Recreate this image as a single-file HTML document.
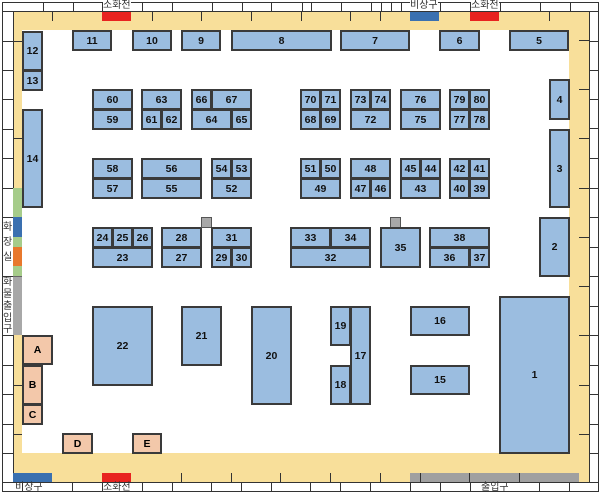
<!DOCTYPE html>
<html><head><meta charset="utf-8"><style>
body{margin:0;width:600px;height:494px;background:#fff;position:relative;overflow:hidden;font-family:"Liberation Sans","Noto Sans CJK KR",sans-serif}
div{position:absolute;box-sizing:border-box}
.b{background:#9bbde0;border:2px solid #3a3a3a;font-weight:bold;font-size:10.5px;color:#111;display:flex;align-items:center;justify-content:center}
.p{background:#f3c8aa;border:2px solid #3a3a3a;font-weight:bold;font-size:10.5px;display:flex;align-items:center;justify-content:center}
.y{background:#f8df9a}
.v{width:1px;background:#333}
.h{height:1px;background:#333}
.t{font-size:10px;color:#333;line-height:10px}
</style></head><body>
<div style="left:2px;top:2px;width:597px;height:490px;border:1px solid #333"></div>
<div class="y" style="left:13px;top:12px;width:576px;height:18px"></div>
<div class="y" style="left:13px;top:12px;width:9px;height:176px"></div>
<div class="y" style="left:13px;top:335px;width:9px;height:140px"></div>
<div class="y" style="left:569px;top:12px;width:20px;height:470px"></div>
<div class="y" style="left:13px;top:453px;width:576px;height:29px"></div>
<div class="h" style="left:2px;top:11px;width:597px"></div>
<div class="h" style="left:2px;top:482px;width:597px"></div>
<div class="v" style="left:13px;top:11px;height:472px"></div>
<div class="v" style="left:589px;top:11px;height:472px"></div>
<div class="v" style="left:43px;top:2px;height:10px"></div><div class="v" style="left:73px;top:2px;height:10px"></div>
<div class="v" style="left:102px;top:2px;height:10px"></div><div class="v" style="left:124px;top:2px;height:10px"></div>
<div class="v" style="left:142px;top:2px;height:10px"></div><div class="v" style="left:172px;top:2px;height:10px"></div>
<div class="v" style="left:212px;top:2px;height:10px"></div><div class="v" style="left:242px;top:2px;height:10px"></div>
<div class="v" style="left:271px;top:2px;height:10px"></div><div class="v" style="left:302px;top:2px;height:10px"></div>
<div class="v" style="left:311px;top:2px;height:10px"></div><div class="v" style="left:341px;top:2px;height:10px"></div>
<div class="v" style="left:371px;top:2px;height:10px"></div><div class="v" style="left:381px;top:2px;height:10px"></div>
<div class="v" style="left:391px;top:2px;height:10px"></div><div class="v" style="left:401px;top:2px;height:10px"></div>
<div class="v" style="left:410px;top:2px;height:10px"></div><div class="v" style="left:440px;top:2px;height:10px"></div>
<div class="v" style="left:470px;top:2px;height:10px"></div><div class="v" style="left:500px;top:2px;height:10px"></div>
<div class="v" style="left:540px;top:2px;height:10px"></div><div class="v" style="left:570px;top:2px;height:10px"></div>
<div class="v" style="left:52px;top:12px;height:9px"></div><div class="v" style="left:152px;top:12px;height:9px"></div>
<div class="v" style="left:201px;top:12px;height:9px"></div><div class="v" style="left:251px;top:12px;height:9px"></div>
<div class="v" style="left:301px;top:12px;height:9px"></div><div class="v" style="left:350px;top:12px;height:9px"></div>
<div class="v" style="left:380px;top:12px;height:9px"></div><div class="v" style="left:549px;top:12px;height:9px"></div>
<div style="left:102px;top:12px;width:29px;height:9px;background:#e8231f"></div>
<div style="left:410px;top:12px;width:29px;height:9px;background:#3a70b0"></div>
<div style="left:470px;top:12px;width:29px;height:9px;background:#e8231f"></div>
<div class="t" style="left:103px;top:1px;background:#fff">소화전</div>
<div class="t" style="left:410px;top:1px;background:#fff">비상구</div>
<div class="t" style="left:471px;top:1px;background:#fff">소화전</div>
<div class="h" style="left:2px;top:41px;width:11px"></div><div class="h" style="left:2px;top:70px;width:11px"></div>
<div class="h" style="left:2px;top:99px;width:11px"></div><div class="h" style="left:2px;top:129px;width:11px"></div>
<div class="h" style="left:2px;top:158px;width:11px"></div><div class="h" style="left:2px;top:188px;width:11px"></div>
<div class="h" style="left:2px;top:217px;width:11px"></div><div class="h" style="left:2px;top:276px;width:11px"></div>
<div class="h" style="left:2px;top:335px;width:11px"></div><div class="h" style="left:2px;top:365px;width:11px"></div>
<div class="h" style="left:2px;top:394px;width:11px"></div><div class="h" style="left:2px;top:424px;width:11px"></div>
<div class="h" style="left:2px;top:453px;width:11px"></div>
<div style="left:13px;top:188px;width:9px;height:29px;background:#a6cc8a"></div>
<div style="left:13px;top:217px;width:9px;height:20px;background:#3a70b0"></div>
<div style="left:13px;top:237px;width:9px;height:10px;background:#a6cc8a"></div>
<div style="left:13px;top:247px;width:9px;height:19px;background:#e8782c"></div>
<div style="left:13px;top:266px;width:9px;height:10px;background:#a6cc8a"></div>
<div style="left:13px;top:276px;width:9px;height:59px;background:#a8a8a8;border-top:1px solid #666"></div>
<div class="t" style="left:3px;top:223px">화</div><div class="t" style="left:3px;top:238px">장</div><div class="t" style="left:3px;top:253px">실</div>
<div class="t" style="left:3px;top:278px">화</div><div class="t" style="left:3px;top:290px">물</div><div class="t" style="left:3px;top:302px">출</div>
<div class="t" style="left:3px;top:314px">입</div><div class="t" style="left:3px;top:325px">구</div>
<div class="h" style="left:13px;top:41px;width:9px"></div><div class="h" style="left:13px;top:138px;width:9px"></div>
<div class="h" style="left:13px;top:385px;width:9px"></div><div class="h" style="left:13px;top:434px;width:9px"></div>
<div class="h" style="left:589px;top:41px;width:10px"></div><div class="h" style="left:589px;top:70px;width:10px"></div>
<div class="h" style="left:589px;top:99px;width:10px"></div><div class="h" style="left:589px;top:128px;width:10px"></div>
<div class="h" style="left:589px;top:158px;width:10px"></div><div class="h" style="left:589px;top:188px;width:10px"></div>
<div class="h" style="left:589px;top:217px;width:10px"></div><div class="h" style="left:589px;top:247px;width:10px"></div>
<div class="h" style="left:589px;top:276px;width:10px"></div><div class="h" style="left:589px;top:306px;width:10px"></div>
<div class="h" style="left:589px;top:335px;width:10px"></div><div class="h" style="left:589px;top:365px;width:10px"></div>
<div class="h" style="left:589px;top:394px;width:10px"></div><div class="h" style="left:589px;top:424px;width:10px"></div>
<div class="h" style="left:589px;top:453px;width:10px"></div>
<div class="h" style="left:579px;top:40px;width:10px"></div><div class="h" style="left:579px;top:89px;width:10px"></div>
<div class="h" style="left:579px;top:138px;width:10px"></div><div class="h" style="left:579px;top:188px;width:10px"></div>
<div class="h" style="left:579px;top:237px;width:10px"></div><div class="h" style="left:579px;top:286px;width:10px"></div>
<div class="h" style="left:579px;top:335px;width:10px"></div><div class="h" style="left:579px;top:385px;width:10px"></div>
<div class="h" style="left:579px;top:434px;width:10px"></div>
<div style="left:13px;top:473px;width:39px;height:9px;background:#3a70b0"></div>
<div style="left:102px;top:473px;width:29px;height:9px;background:#e8231f"></div>
<div style="left:410px;top:473px;width:169px;height:9px;background:#a0a0a0"></div>
<div class="v" style="left:181px;top:473px;height:9px"></div><div class="v" style="left:231px;top:473px;height:9px"></div>
<div class="v" style="left:280px;top:473px;height:9px"></div><div class="v" style="left:330px;top:473px;height:9px"></div>
<div class="v" style="left:380px;top:473px;height:9px"></div><div class="v" style="left:420px;top:473px;height:9px"></div>
<div class="v" style="left:469px;top:473px;height:9px"></div><div class="v" style="left:519px;top:473px;height:9px"></div>
<div class="v" style="left:22px;top:482px;height:10px"></div><div class="v" style="left:72px;top:482px;height:10px"></div>
<div class="v" style="left:102px;top:482px;height:10px"></div><div class="v" style="left:142px;top:482px;height:10px"></div>
<div class="v" style="left:172px;top:482px;height:10px"></div><div class="v" style="left:211px;top:482px;height:10px"></div>
<div class="v" style="left:241px;top:482px;height:10px"></div><div class="v" style="left:271px;top:482px;height:10px"></div>
<div class="v" style="left:310px;top:482px;height:10px"></div><div class="v" style="left:340px;top:482px;height:10px"></div>
<div class="v" style="left:370px;top:482px;height:10px"></div><div class="v" style="left:410px;top:482px;height:10px"></div>
<div class="v" style="left:440px;top:482px;height:10px"></div><div class="v" style="left:470px;top:482px;height:10px"></div>
<div class="v" style="left:539px;top:482px;height:10px"></div><div class="v" style="left:569px;top:482px;height:10px"></div>
<div class="t" style="left:15px;top:483px">비상구</div>
<div class="t" style="left:103px;top:483px">소화전</div>
<div class="t" style="left:481px;top:483px">출입구</div>
<div class="b" style="left:72px;top:30px;width:40px;height:21px">11</div>
<div class="b" style="left:132px;top:30px;width:40px;height:21px">10</div>
<div class="b" style="left:181px;top:30px;width:40px;height:21px">9</div>
<div class="b" style="left:231px;top:30px;width:101px;height:21px">8</div>
<div class="b" style="left:340px;top:30px;width:70px;height:21px">7</div>
<div class="b" style="left:439px;top:30px;width:41px;height:21px">6</div>
<div class="b" style="left:509px;top:30px;width:60px;height:21px">5</div>
<div class="b" style="left:22px;top:31px;width:21px;height:40px">12</div>
<div class="b" style="left:22px;top:70px;width:21px;height:21px">13</div>
<div class="b" style="left:22px;top:109px;width:21px;height:99px">14</div>
<div class="b" style="left:549px;top:79px;width:21px;height:41px">4</div>
<div class="b" style="left:549px;top:129px;width:21px;height:79px">3</div>
<div class="b" style="left:539px;top:217px;width:31px;height:60px">2</div>
<div class="b" style="left:92px;top:89px;width:41px;height:21px">60</div>
<div class="b" style="left:92px;top:109px;width:41px;height:21px">59</div>
<div class="b" style="left:141px;top:89px;width:41px;height:21px">63</div>
<div class="b" style="left:141px;top:109px;width:21px;height:21px">61</div>
<div class="b" style="left:161px;top:109px;width:21px;height:21px">62</div>
<div class="b" style="left:191px;top:89px;width:21px;height:21px">66</div>
<div class="b" style="left:211px;top:89px;width:41px;height:21px">67</div>
<div class="b" style="left:191px;top:109px;width:41px;height:21px">64</div>
<div class="b" style="left:231px;top:109px;width:21px;height:21px">65</div>
<div class="b" style="left:300px;top:89px;width:21px;height:21px">70</div>
<div class="b" style="left:320px;top:89px;width:21px;height:21px">71</div>
<div class="b" style="left:300px;top:109px;width:21px;height:21px">68</div>
<div class="b" style="left:320px;top:109px;width:21px;height:21px">69</div>
<div class="b" style="left:350px;top:89px;width:21px;height:21px">73</div>
<div class="b" style="left:370px;top:89px;width:21px;height:21px">74</div>
<div class="b" style="left:350px;top:109px;width:41px;height:21px">72</div>
<div class="b" style="left:400px;top:89px;width:41px;height:21px">76</div>
<div class="b" style="left:400px;top:109px;width:41px;height:21px">75</div>
<div class="b" style="left:449px;top:89px;width:21px;height:21px">79</div>
<div class="b" style="left:469px;top:89px;width:21px;height:21px">80</div>
<div class="b" style="left:449px;top:109px;width:21px;height:21px">77</div>
<div class="b" style="left:469px;top:109px;width:21px;height:21px">78</div>
<div class="b" style="left:92px;top:158px;width:41px;height:21px">58</div>
<div class="b" style="left:92px;top:178px;width:41px;height:21px">57</div>
<div class="b" style="left:141px;top:158px;width:61px;height:21px">56</div>
<div class="b" style="left:141px;top:178px;width:61px;height:21px">55</div>
<div class="b" style="left:211px;top:158px;width:21px;height:21px">54</div>
<div class="b" style="left:231px;top:158px;width:21px;height:21px">53</div>
<div class="b" style="left:211px;top:178px;width:41px;height:21px">52</div>
<div class="b" style="left:300px;top:158px;width:21px;height:21px">51</div>
<div class="b" style="left:320px;top:158px;width:21px;height:21px">50</div>
<div class="b" style="left:300px;top:178px;width:41px;height:21px">49</div>
<div class="b" style="left:350px;top:158px;width:41px;height:21px">48</div>
<div class="b" style="left:350px;top:178px;width:21px;height:21px">47</div>
<div class="b" style="left:370px;top:178px;width:21px;height:21px">46</div>
<div class="b" style="left:400px;top:158px;width:21px;height:21px">45</div>
<div class="b" style="left:420px;top:158px;width:21px;height:21px">44</div>
<div class="b" style="left:400px;top:178px;width:41px;height:21px">43</div>
<div class="b" style="left:449px;top:158px;width:21px;height:21px">42</div>
<div class="b" style="left:469px;top:158px;width:21px;height:21px">41</div>
<div class="b" style="left:449px;top:178px;width:21px;height:21px">40</div>
<div class="b" style="left:469px;top:178px;width:21px;height:21px">39</div>
<div class="b" style="left:92px;top:227px;width:21px;height:21px">24</div>
<div class="b" style="left:112px;top:227px;width:21px;height:21px">25</div>
<div class="b" style="left:132px;top:227px;width:21px;height:21px">26</div>
<div class="b" style="left:92px;top:247px;width:61px;height:21px">23</div>
<div class="b" style="left:161px;top:227px;width:41px;height:21px">28</div>
<div class="b" style="left:161px;top:247px;width:41px;height:21px">27</div>
<div style="left:201px;top:217px;width:11px;height:11px;background:#a8a8a8;border:1px solid #555"></div>
<div class="b" style="left:211px;top:227px;width:41px;height:21px">31</div>
<div class="b" style="left:211px;top:247px;width:21px;height:21px">29</div>
<div class="b" style="left:231px;top:247px;width:21px;height:21px">30</div>
<div class="b" style="left:290px;top:227px;width:41px;height:21px">33</div>
<div class="b" style="left:330px;top:227px;width:41px;height:21px">34</div>
<div class="b" style="left:290px;top:247px;width:81px;height:21px">32</div>
<div style="left:390px;top:217px;width:11px;height:11px;background:#a8a8a8;border:1px solid #555"></div>
<div class="b" style="left:380px;top:227px;width:41px;height:41px">35</div>
<div class="b" style="left:429px;top:227px;width:61px;height:21px">38</div>
<div class="b" style="left:429px;top:247px;width:41px;height:21px">36</div>
<div class="b" style="left:469px;top:247px;width:21px;height:21px">37</div>
<div class="b" style="left:92px;top:306px;width:61px;height:80px">22</div>
<div class="b" style="left:181px;top:306px;width:41px;height:60px">21</div>
<div class="b" style="left:251px;top:306px;width:41px;height:99px">20</div>
<div class="b" style="left:330px;top:306px;width:21px;height:40px">19</div>
<div class="b" style="left:330px;top:365px;width:21px;height:40px">18</div>
<div class="b" style="left:350px;top:306px;width:21px;height:99px">17</div>
<div class="b" style="left:410px;top:306px;width:60px;height:30px">16</div>
<div class="b" style="left:410px;top:365px;width:60px;height:30px">15</div>
<div class="b" style="left:499px;top:296px;width:71px;height:158px">1</div>
<div class="p" style="left:22px;top:335px;width:31px;height:30px">A</div>
<div class="p" style="left:22px;top:365px;width:21px;height:40px">B</div>
<div class="p" style="left:22px;top:404px;width:21px;height:21px">C</div>
<div class="p" style="left:62px;top:433px;width:31px;height:21px">D</div>
<div class="p" style="left:132px;top:433px;width:30px;height:21px">E</div>
</body></html>
